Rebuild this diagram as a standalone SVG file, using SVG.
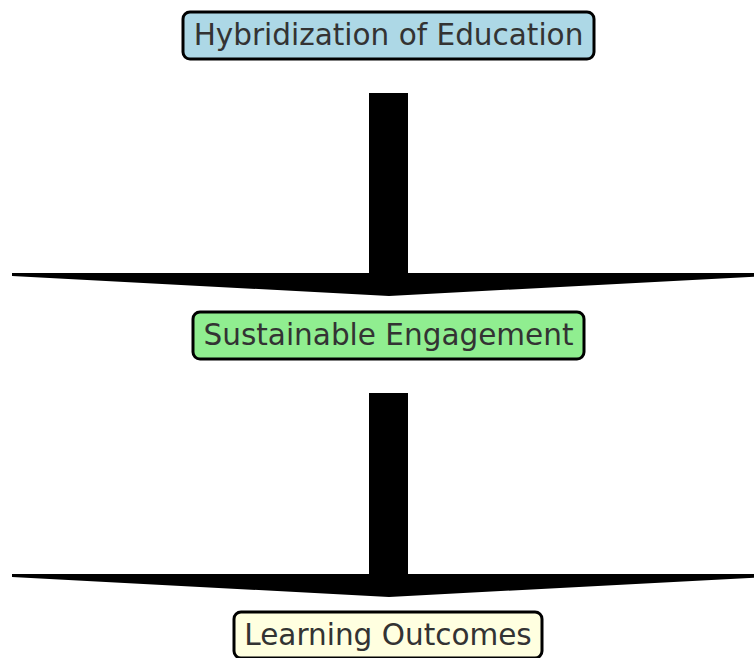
<svg xmlns="http://www.w3.org/2000/svg" width="754" height="658" viewBox="0 0 754 658">
<style>
.box{stroke:#000;stroke-width:3}
.lbl{font-family:"DejaVu Sans",sans-serif;font-size:29.5px;fill:#333;text-anchor:middle}
.arr{fill:#000;stroke:none}
</style>
<rect width="754" height="658" fill="#fff"/>
<g id="connectors">
<path class="arr" d="M369,93 L408,93 L408,273 L766,273 L766,276 L389,296 L12,276 L12,273 L369,273 Z"/>
<path class="arr" d="M369,393 L408,393 L408,574 L766,574 L766,577 L389,597 L12,577 L12,574 L369,574 Z"/>
</g>
<g id="hybridization">
<rect class="box" x="183" y="12" width="411" height="47" rx="7" fill="#ADD8E6"/>
<text class="lbl" x="388.5" y="45">Hybridization of Education</text>
</g>
<g id="engagement">
<rect class="box" x="193" y="312" width="391" height="47" rx="7" fill="#90EE90"/>
<text class="lbl" x="388.5" y="345">Sustainable Engagement</text>
</g>
<g id="outcomes">
<rect class="box" x="234" y="612" width="308" height="46" rx="7" fill="#FFFFE0"/>
<text class="lbl" x="388" y="645">Learning Outcomes</text>
</g>
</svg>
